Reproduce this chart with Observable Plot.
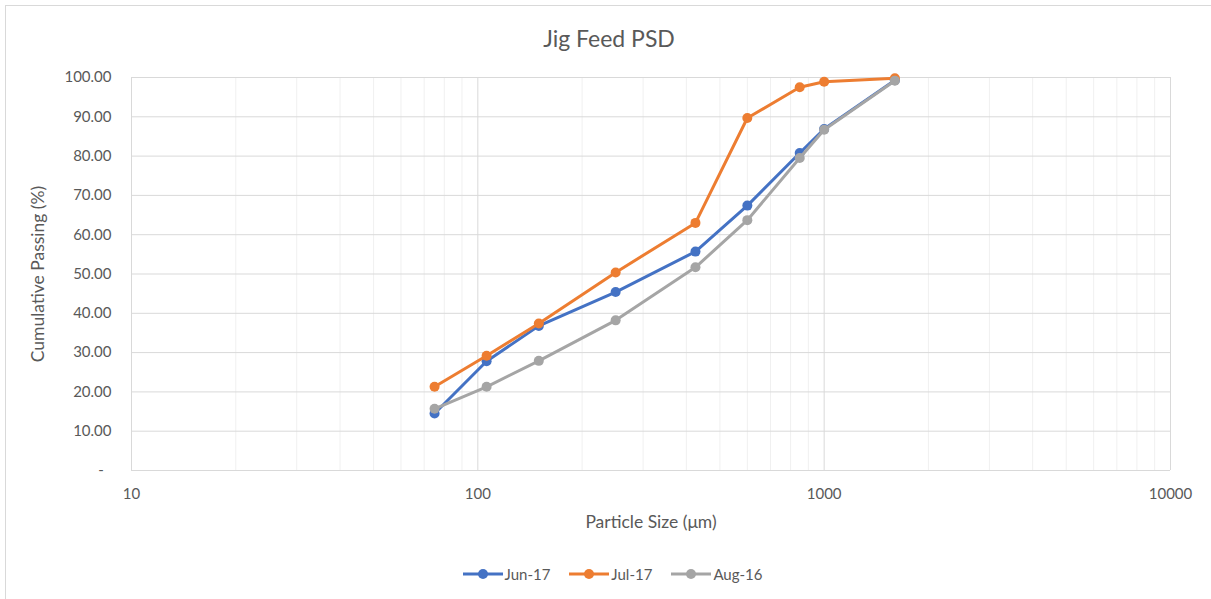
<!DOCTYPE html>
<html>
<head>
<meta charset="utf-8">
<script src="https://cdn.jsdelivr.net/npm/d3@7"></script>
<script src="https://cdn.jsdelivr.net/npm/@observablehq/plot@0.6"></script>
<style>
  body { margin: 0; background: #fff; font-family: Lato, "Open Sans", sans-serif; }
  #wrap { position: relative; width: 1211px; height: 599px; overflow: hidden; background: #fff; }
  #frame { position: absolute; left: 5px; top: 5px; width: 1230px; height: 640px; border: 1px solid #d9d9d9; box-sizing: border-box; z-index: 3; pointer-events: none; }
  #title { position: absolute; left: 0; top: 23px; width: 1218px; text-align: center; font-size: 23px; color: #595959; line-height: 30px; z-index: 2; }
  #chart { position: absolute; left: 0; top: 50px; z-index: 1; }
  #legend { position: absolute; left: 0; top: 564px; width: 1225px; height: 20px; display: flex; justify-content: center; align-items: center; font-size: 15px; color: #595959; z-index: 2; }
  .item { display: flex; align-items: center; margin: 0 9.5px; }
  .item span { margin-left: 2px; }
</style>
</head>
<body>
<div id="wrap">
  <div id="frame"></div>
  <div id="title">Jig Feed PSD</div>
  <div id="chart"></div>
  <div id="legend"></div>
</div>
<script>
// Particle sizes (µm)
const sizes = [75, 106, 150, 250, 425, 600, 850, 1000, 1600];
// Cumulative passing (%)
const jun17 = [14.5, 27.8, 36.8, 45.4, 55.7, 67.4, 80.8, 86.9, 99.3];
const jul17 = [21.3, 29.2, 37.4, 50.4, 63.0, 89.7, 97.5, 98.9, 99.8];
const aug16 = [15.7, 21.3, 27.9, 38.2, 51.7, 63.7, 79.5, 86.7, 99.2];
const seriesNames = ["Jun-17", "Jul-17", "Aug-16"];
const seriesValues = [jun17, jul17, aug16];
const seriesColors = ["#4472C4", "#ED7D31", "#A5A5A5"];
// Axis ticks
const xTicks = [10, 100, 1000, 10000];
const xMinorTicks = [20, 30, 40, 50, 60, 70, 80, 90, 200, 300, 400, 500, 600, 700, 800, 900, 2000, 3000, 4000, 5000, 6000, 7000, 8000, 9000];
const yTicks = [0, 10, 20, 30, 40, 50, 60, 70, 80, 90, 100];
const xTitle = "Particle Size (μm)";
const yTitle = "Cumulative Passing (%)";

const rows = seriesNames.flatMap((name, i) =>
  sizes.map((s, j) => ({series: name, size: s, value: seriesValues[i][j]}))
);

const seriesMarks = seriesNames.flatMap((name, i) => {
  const d = rows.filter(r => r.series === name);
  return [
    Plot.line(d, {x: "size", y: "value", stroke: seriesColors[i], strokeWidth: 3, strokeLinejoin: "round", strokeLinecap: "round"}),
    Plot.dot(d, {x: "size", y: "value", r: 5, fill: seriesColors[i], stroke: "none"})
  ];
});

const chart = Plot.plot({
  width: 1211,
  height: 490,
  marginLeft: 131,
  marginRight: 41,
  marginTop: 27,
  marginBottom: 70,
  style: {fontFamily: "Lato, 'Open Sans', sans-serif", fontSize: "15px", color: "#595959", background: "transparent"},
  x: {type: "log", domain: [10, 10000]},
  y: {domain: [0, 100]},
  marks: [
    Plot.ruleX(xMinorTicks, {stroke: "#f0f0f0", strokeWidth: 1}),
    Plot.ruleY(yTicks, {stroke: "#d9d9d9", strokeWidth: 1}),
    Plot.ruleX(xTicks, {stroke: "#d9d9d9", strokeWidth: 1}),
    Plot.axisX({ticks: xTicks, tickSize: 0, tickPadding: 18, tickFormat: d => String(d), label: null, fill: "#595959"}),
    Plot.axisY({ticks: yTicks, tickSize: 0, tickPadding: 20, tickFormat: d => d === 0 ? "-\u00a0\u00a0" : d.toFixed(2), label: null, fill: "#595959"}),
    ...seriesMarks,
    Plot.text([xTitle], {text: d => d, frameAnchor: "bottom", dy: 52, lineAnchor: "middle", textAnchor: "middle", fontSize: 17.5, fill: "#595959"}),
    Plot.text([yTitle], {text: d => d, frameAnchor: "left", dx: -93, rotate: -90, lineAnchor: "middle", textAnchor: "middle", fontSize: 17.5, fill: "#595959"})
  ]
});
document.getElementById("chart").appendChild(chart);

const legend = document.getElementById("legend");
seriesNames.forEach((name, i) => {
  const item = document.createElement("div");
  item.className = "item";
  item.innerHTML = `<svg width="40" height="12"><line x1="0" y1="6" x2="40" y2="6" stroke="${seriesColors[i]}" stroke-width="3"/><circle cx="20" cy="6" r="5" fill="${seriesColors[i]}"/></svg><span>${name}</span>`;
  legend.appendChild(item);
});
</script>
</body>
</html>
